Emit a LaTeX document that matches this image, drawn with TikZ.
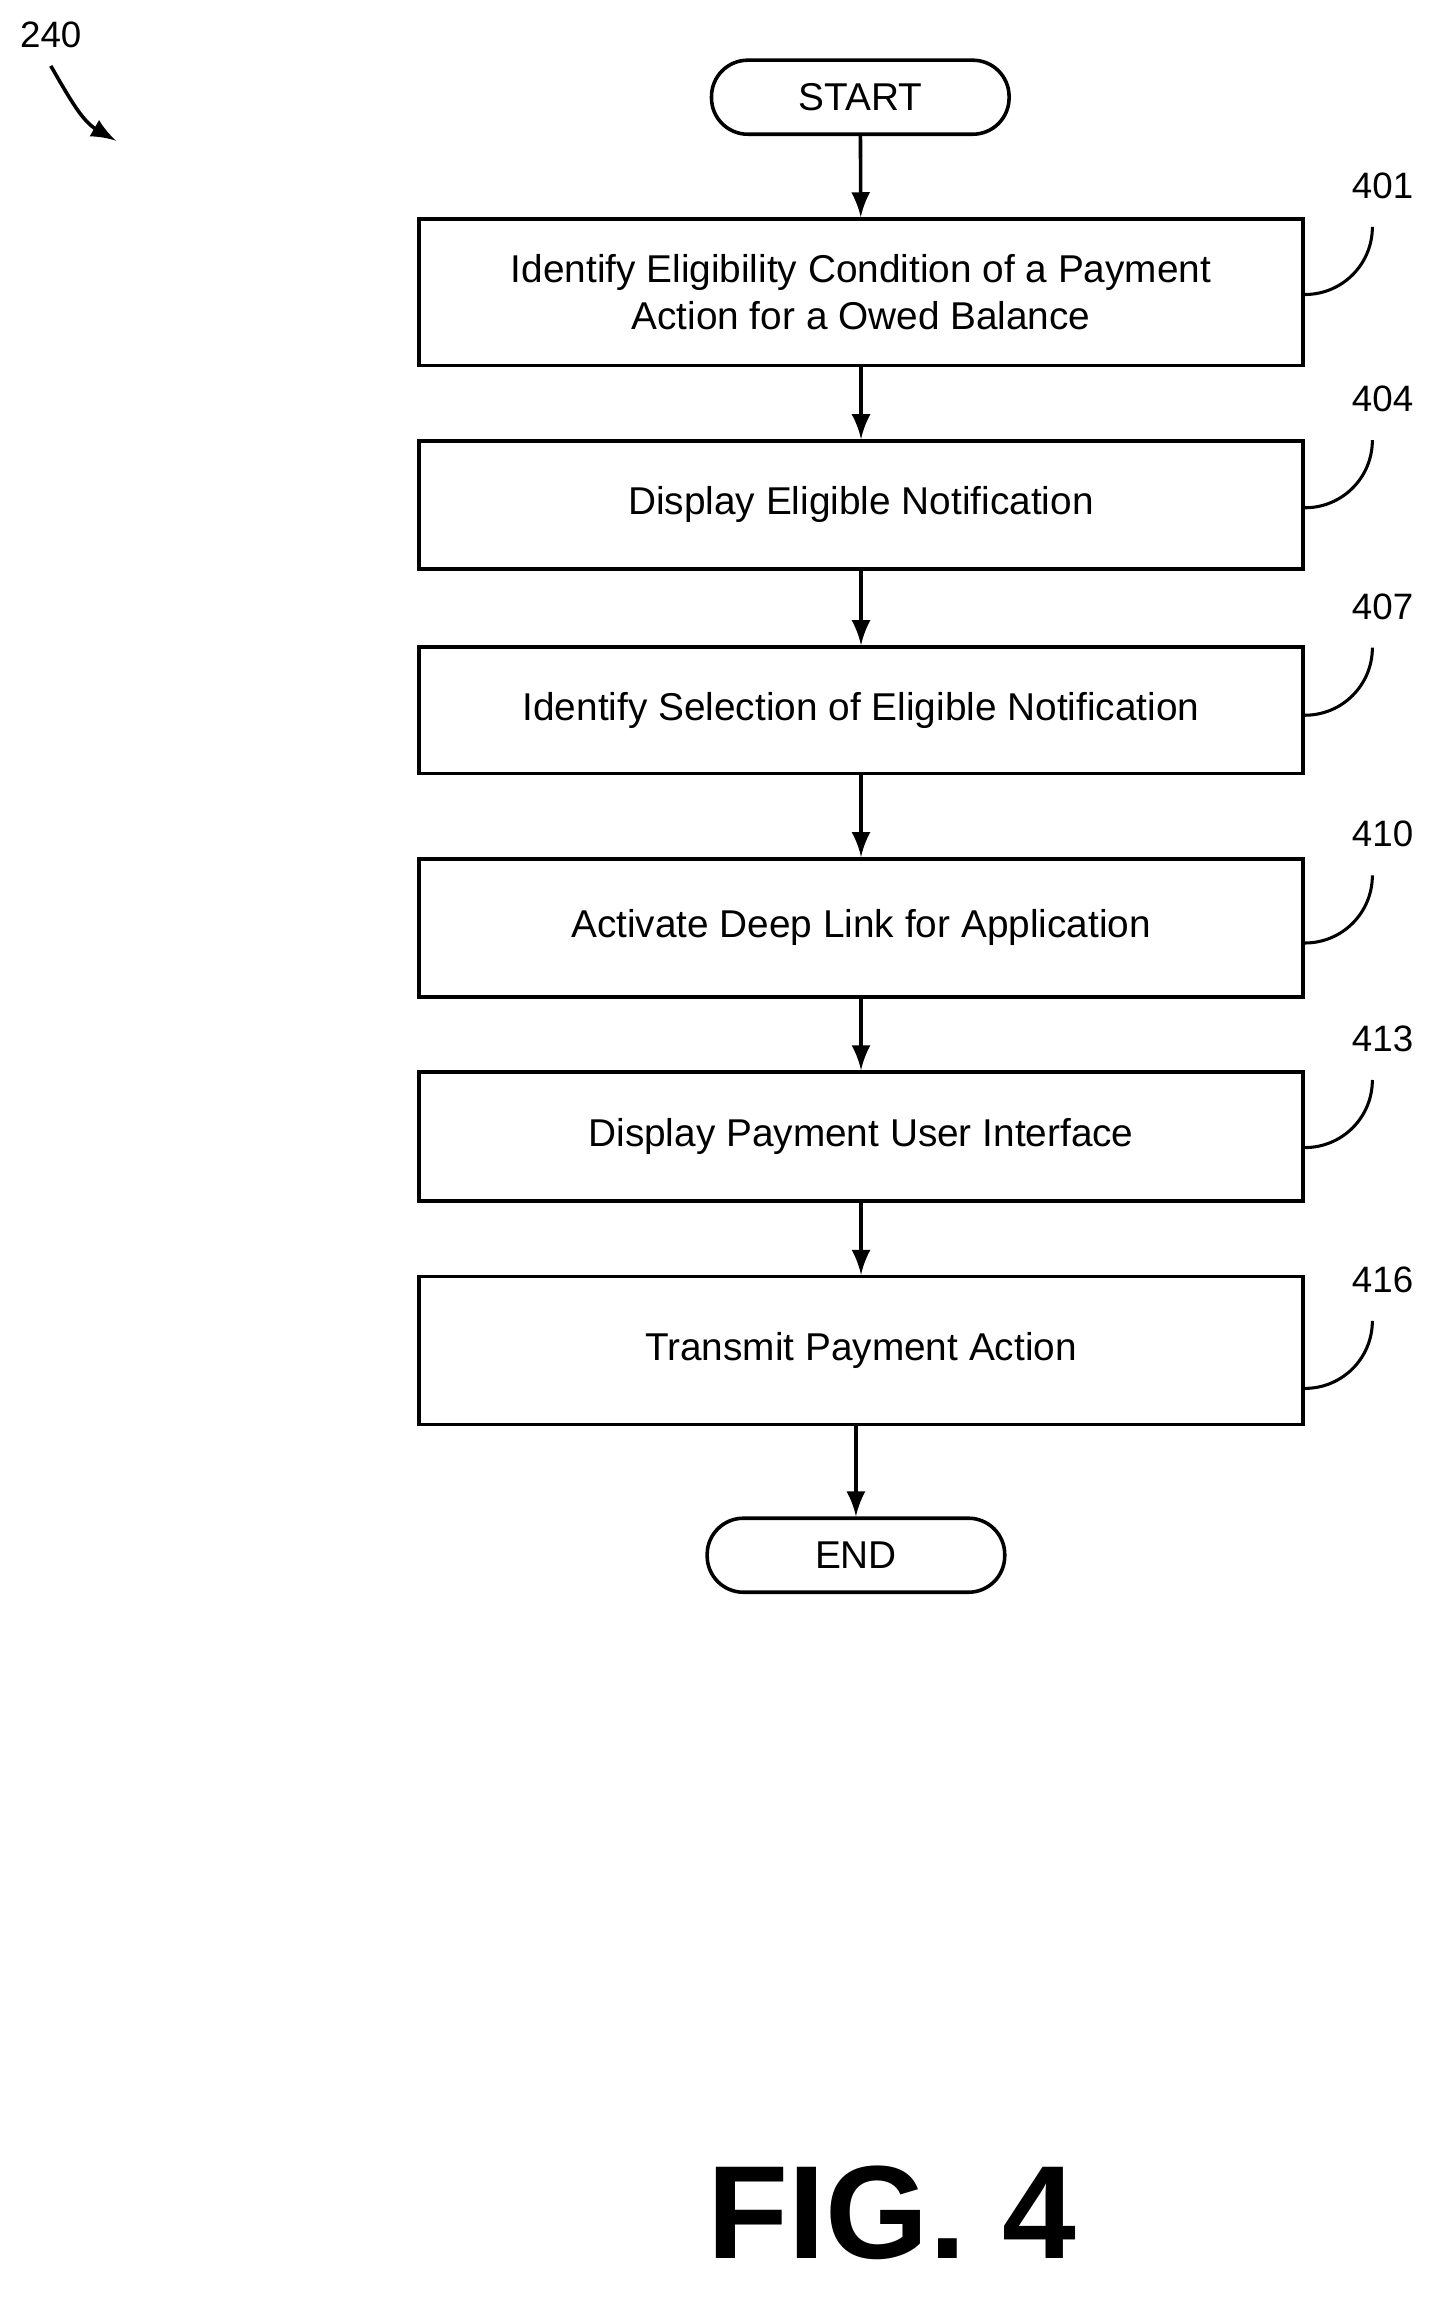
\documentclass[tikz,border=0pt]{standalone}
\usepackage{fontspec}
\setmainfont{Liberation Sans}
\usetikzlibrary{positioning}
\tikzset{
  procbox/.style={draw, line width=0.7pt, minimum width=6.09cm, align=center, font=\fontsize{7.6}{9.2}\selectfont},
  term/.style={draw, line width=0.7pt, rounded corners=2.5mm, minimum width=2.05cm, minimum height=0.51cm, font=\fontsize{7.6}{9}\selectfont},
  ref/.style={font=\fontsize{7.2}{8}\selectfont},
  flow/.style={-latex, line width=0.7pt},
  lead/.style={line width=0.6pt}
}
\begin{document}
\begin{tikzpicture}[x=0.01cm, y=-0.01cm]
    \useasboundingbox (0,0) rectangle (1000,1584);

    % Terminals
    \node[term] (start) at (593,67) {START};
    \node[term] (end) at (590,1072) {END};

    % Steps: name/center y/height/text
    \foreach \n/\y/\h/\t in {s401/201.5/1.01/{Identify Eligibility Condition of a Payment\\Action for a Owed Balance},
                             s404/348/0.88/{Display Eligible Notification},
                             s407/489.5/0.87/{Identify Selection of Eligible Notification},
                             s410/639.5/0.95/{Activate Deep Link for Application},
                             s413/783.5/0.89/{Display Payment User Interface},
                             s416/931/1.02/{Transmit Payment Action}} {
      \node[procbox, minimum height=\h cm] (\n) at (593.5,\y) {\t};
    }

    % Arrows
    \draw[flow] (start) -- (s401);
    \draw[flow] (s401) -- (s404);
    \draw[flow] (s404) -- (s407);
    \draw[flow] (s407) -- (s410);
    \draw[flow] (s410) -- (s413);
    \draw[flow] (s413) -- (s416);
    \draw[flow] (s416.south -| end) -- (end);

    % Reference numerals
    \foreach \n/\y in {401/128, 404/275, 407/418, 410/575, 413/716, 416/882} {
      \node[ref] (r\n) at (953,\y) {\n};
      \draw[lead] (s\n.east |- 0,\y+75) to[out=0, in=-90] ([xshift=-2pt,yshift=-2pt]r\n.south);
    }

    % Figure number
    \node[ref] (r240) at (35,24) {240};
    \coordinate (p240) at (80,97);
    \draw[flow] (r240.south) to[out=-60, in=150] (p240);
    \node[font=\bfseries\fontsize{26}{28}\selectfont] (fig) at (615,1525) {FIG. 4};
\end{tikzpicture}
\end{document}
